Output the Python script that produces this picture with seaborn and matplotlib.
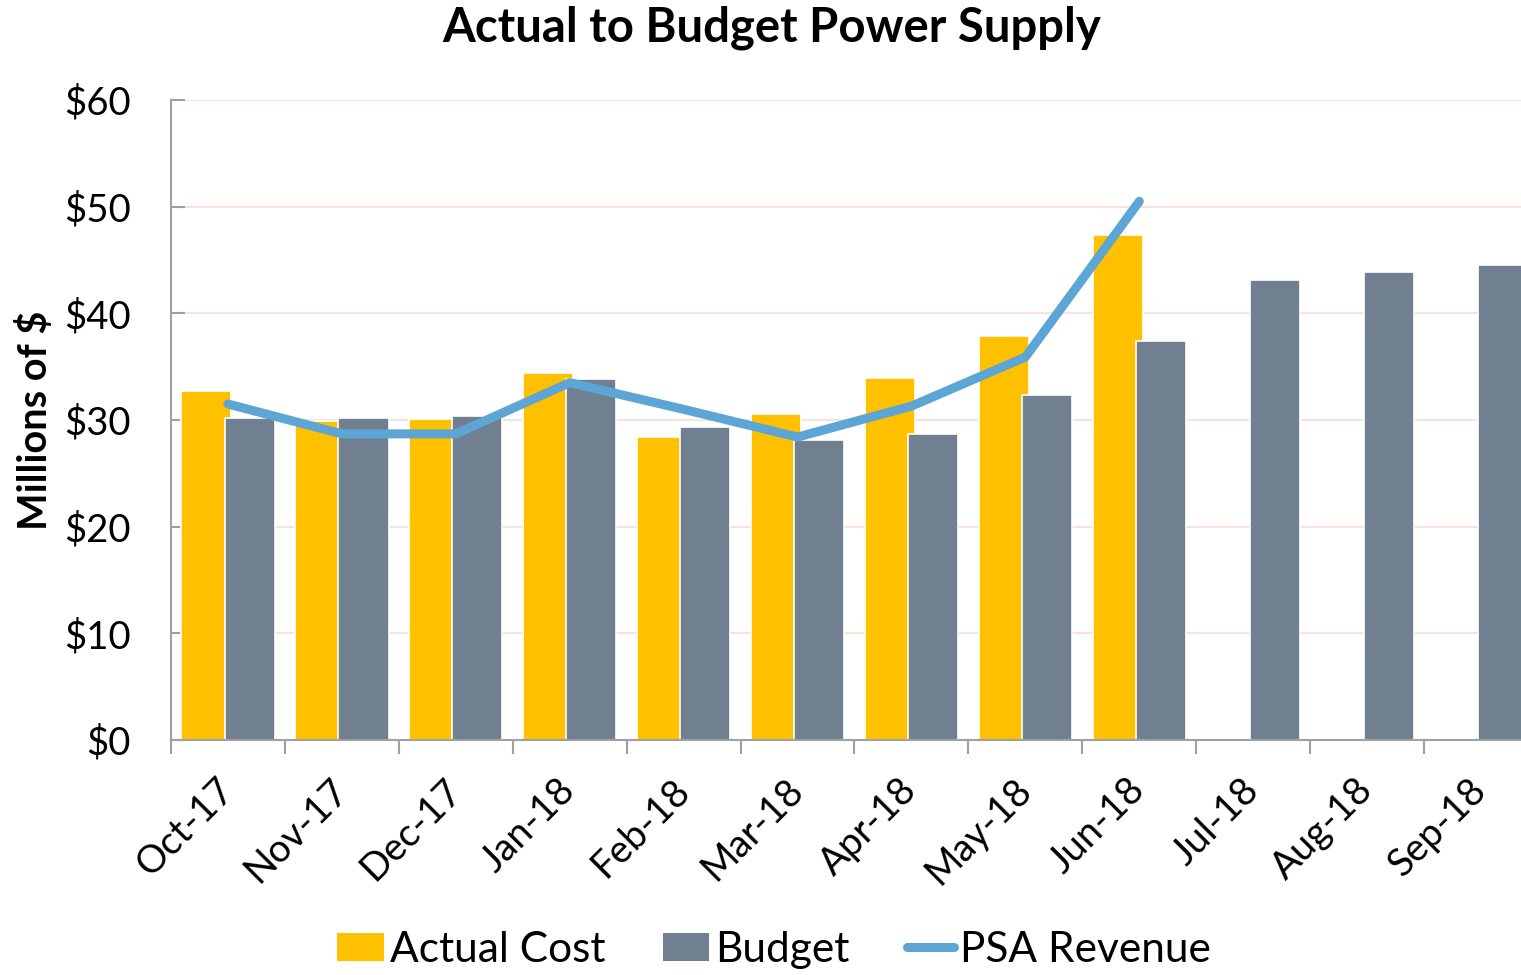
import numpy as np
import pandas as pd
import matplotlib
matplotlib.use("Agg")
import matplotlib.pyplot as plt
from matplotlib.patches import Patch
from matplotlib.lines import Line2D
import seaborn as sns

# values (millions of $)
months = ["Oct-17", "Nov-17", "Dec-17", "Jan-18", "Feb-18", "Mar-18",
          "Apr-18", "May-18", "Jun-18", "Jul-18", "Aug-18", "Sep-18"]
actual_cost = [32.7, 29.9, 30.1, 34.4, 28.4, 30.6, 33.9, 37.9, 47.3]
budget = [30.2, 30.2, 30.4, 33.8, 29.3, 28.1, 28.7, 32.3, 37.4, 43.1, 43.9, 44.5]
psa_revenue = [31.5, 28.7, 28.7, 33.5, 31.0, 28.4, 31.3, 35.9, 50.5]

yellow = "#FFC000"
slate = "#708090"
blue = "#5DA5D4"
axis_gray = "#A0A0A0"

sns.set_theme(style="white")
plt.rcParams["font.family"] = ["Lato", "DejaVu Sans"]
plt.rcParams["text.color"] = "black"

rows = []
for m, v in zip(months, actual_cost):
    rows.append({"Month": m, "Series": "Actual Cost", "Value": v})
for m, v in zip(months, budget):
    rows.append({"Month": m, "Series": "Budget", "Value": v})
df = pd.DataFrame(rows)

fig = plt.figure(figsize=(15.21, 9.75), dpi=100)
ax = fig.add_axes([171 / 1521, 1 - 740 / 975, (1538 - 171) / 1521, 640 / 975])

sns.barplot(data=df, x="Month", y="Value", hue="Series", order=months,
            hue_order=["Actual Cost", "Budget"], palette=[yellow, slate],
            width=0.76, dodge=True, saturation=1, edgecolor="white",
            linewidth=1.2, errorbar=None, legend=False, ax=ax)

# excel-style overlap: widen each bar a bit around its centre
for p in ax.patches:
    cx = p.get_x() + p.get_width() / 2
    p.set_width(0.44)
    p.set_x(cx - 0.22)

sns.lineplot(x=np.arange(len(psa_revenue)), y=psa_revenue, color=blue,
             linewidth=6.5, solid_capstyle="round", solid_joinstyle="round",
             ax=ax, zorder=5)

ax.set_xlim(-0.5, len(months) - 0.5)
ax.set_ylim(0, 60)
ax.set_yticks(range(0, 61, 10))
ax.set_yticklabels([f"${v}" for v in range(0, 61, 10)])
ax.yaxis.grid(True, color="#F9DCD3", linewidth=1.2)
ax.set_axisbelow(True)

ax.set_xticks(range(len(months)))
ax.set_xticklabels(months, rotation=45, ha="right", va="center",
                   rotation_mode="anchor")
ax.set_xticks(np.arange(-0.5, len(months), 1), minor=True)
ax.tick_params(axis="x", which="major", length=0, pad=32, labelsize=27.5,
               labelcolor="black")
ax.tick_params(axis="x", which="minor", length=10, width=1.5,
               color=axis_gray, direction="out", bottom=True)
ax.tick_params(axis="y", length=10, width=1.5, color=axis_gray,
               direction="in", left=True, pad=29, labelsize=27.5,
               labelcolor="black")

ax.set_xlabel("")
ax.set_ylabel("")
for s in ["top", "right"]:
    ax.spines[s].set_visible(False)
for s in ["left", "bottom"]:
    ax.spines[s].set_color(axis_gray)
    ax.spines[s].set_linewidth(1.5)

fig.text(0.507, 1 - 28 / 975, "Actual to Budget Power Supply",
         ha="center", va="center", fontsize=34, fontweight="bold",
         color="black")
fig.text(35 / 1521, 1 - 420 / 975, "Millions of $", rotation=90,
         ha="center", va="center", fontsize=28.5, fontweight="bold",
         color="black")

handles = [Patch(facecolor=yellow, edgecolor="none"),
           Patch(facecolor=slate, edgecolor="none"),
           Line2D([0], [0], color=blue, linewidth=6.5, solid_capstyle="round")]
leg = fig.legend(handles, ["Actual Cost", "Budget", "PSA Revenue"],
                 loc="center", bbox_to_anchor=(774 / 1521, 1 - 950 / 975),
                 ncol=3, frameon=False, fontsize=30.5, handlelength=1.1,
                 handleheight=0.65, handletextpad=0.15, columnspacing=1.35)
for t in leg.get_texts():
    t.set_color("black")

fig.savefig("out.png", dpi=100)
